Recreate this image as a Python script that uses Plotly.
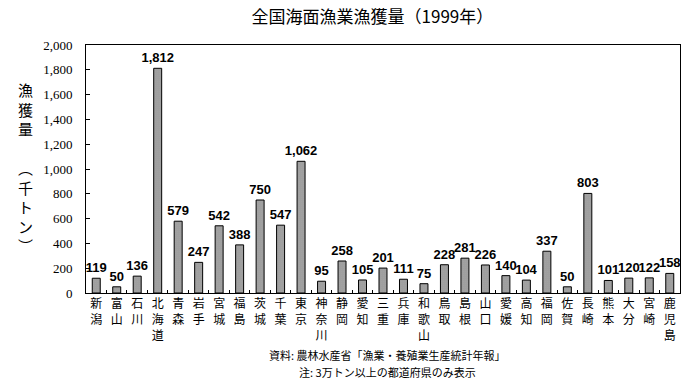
import plotly.graph_objects as go

prefectures = ["新潟", "富山", "石川", "北海道", "青森", "岩手", "宮城", "福島", "茨城", "千葉",
               "東京", "神奈川", "静岡", "愛知", "三重", "兵庫", "和歌山", "鳥取", "島根", "山口",
               "愛媛", "高知", "福岡", "佐賀", "長崎", "熊本", "大分", "宮崎", "鹿児島"]
catch_kt = [119, 50, 136, 1812, 579, 247, 542, 388, 750, 547,
            1062, 95, 258, 105, 201, 111, 75, 228, 281, 226,
            140, 104, 337, 50, 803, 101, 120, 122, 158]
y_ticks = [0, 200, 400, 600, 800, 1000, 1200, 1400, 1600, 1800, 2000]

JP = "Noto Sans CJK JP"
tick_text = ["<br>".join(list(p)) for p in prefectures]

fig = go.Figure()
fig.add_trace(go.Bar(
    x=prefectures, y=catch_kt,
    width=0.39,
    marker=dict(color="white", line=dict(color="black", width=1),
                pattern=dict(shape=".", fgcolor="black", bgcolor="white", size=2, solidity=0.75)),
    text=[f"{v:,}" for v in catch_kt], textposition="outside",
    constraintext="none",
    textfont=dict(family="Arial", size=13, color="black", weight="bold"),
    cliponaxis=False,
))

fig.update_layout(
    width=700, height=385,
    margin=dict(l=86, r=20, t=45, b=92),
    paper_bgcolor="white", plot_bgcolor="white",
    showlegend=False,
    font=dict(family=JP, color="black"),
    title=dict(text="全国海面漁業漁獲量（1999年）", x=0.532, xanchor="center", y=0.955, yanchor="middle",
               font=dict(family=JP, size=17, color="black")),
    xaxis=dict(tickmode="array", tickvals=prefectures, ticktext=tick_text,
               showline=True, linecolor="black", linewidth=1, mirror=True,
               ticks="inside", ticklen=3, tickcolor="black", tickson="boundaries",
               tickfont=dict(family=JP, size=12, color="black"), tickangle=0,
               showgrid=False, range=[-0.5, 28.5], automargin=False),
    yaxis=dict(range=[0, 2000], tickvals=y_ticks, tickformat=",",
               showline=True, linecolor="black", linewidth=1, mirror=True,
               ticks="inside", ticklen=4, tickcolor="black", ticklabelstandoff=10,
               tickfont=dict(family="Liberation Serif", size=13, color="black"),
               showgrid=False, zeroline=False, automargin=False),
)

fig.add_annotation(text="漁<br>獲<br>量<br><br>︵<br>千<br>ト<br>ン<br>︶", xref="paper", yref="paper",
                   x=(25 - 86) / 594, y=0.506, xanchor="center", yanchor="middle",
                   showarrow=False, align="center",
                   font=dict(family=JP, size=15, color="black"))
fig.add_annotation(text="資料: 農林水産省「漁業・養殖業生産統計年報」", xref="paper", yref="paper",
                   x=0.507, y=-(355 - 293) / 248, xanchor="center", yanchor="middle", showarrow=False,
                   font=dict(family=JP, size=11, color="black"))
fig.add_annotation(text="注: 3万トン以上の都道府県のみ表示", xref="paper", yref="paper",
                   x=0.507, y=-(372 - 293) / 248, xanchor="center", yanchor="middle", showarrow=False,
                   font=dict(family=JP, size=11, color="black"))

fig.write_html("out.html", config={"displayModeBar": False},
               post_script="document.body.style.margin='0';")
